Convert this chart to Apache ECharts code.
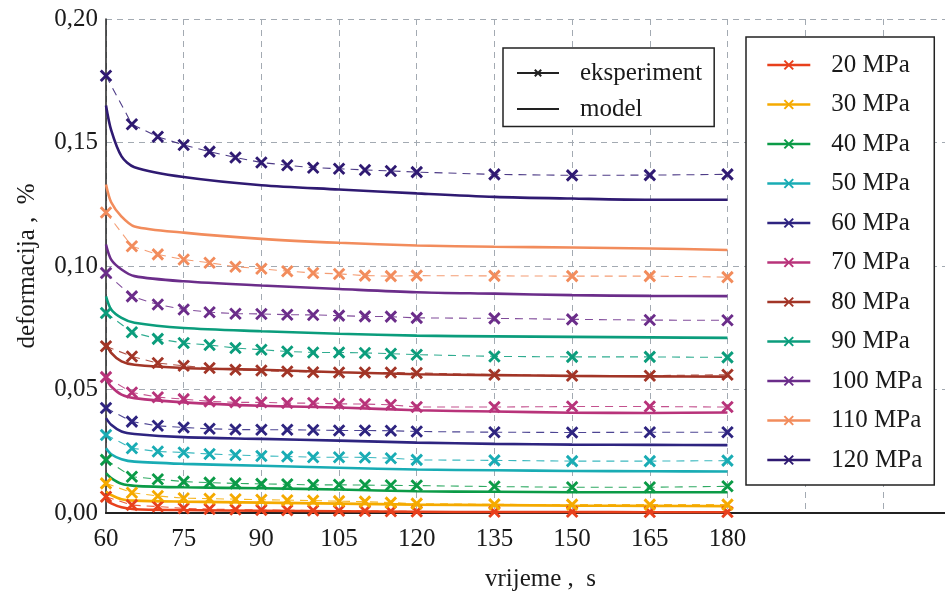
<!DOCTYPE html>
<html><head><meta charset="utf-8">
<script src="https://cdn.jsdelivr.net/npm/echarts@6/dist/echarts.min.js"></script>
<style>html,body{margin:0;padding:0;background:#fff}#c{width:945px;height:597px}</style>
</head><body><div id="c"></div>
<script>
var FONT = 'Liberation Serif';
var expT = [60,65,70,75,80,85,90,95,100,105,110,115,120,135,150,165,180];
var modelT = [60,61,63,65.5,75,90,105,120,135,150,165,180];
var pressures = ['20 MPa','30 MPa','40 MPa','50 MPa','60 MPa','70 MPa','80 MPa','90 MPa','100 MPa','110 MPa','120 MPa'];
var colors = ['#e8401c','#f5aa00','#0b9b47','#19acb4','#2e2480','#b8337a','#a23527','#0b9d7c','#6b2d8a','#f28c5c','#2f1a72'];

var exp20  = [0.0066,0.0032,0.0026,0.0019,0.0016,0.0014,0.0012,0.0011,0.0010,0.0009,0.0008,0.0007,0.0006,0.0005,0.0005,0.0004,0.0004];
var exp30  = [0.0120,0.0082,0.0069,0.0060,0.0058,0.0056,0.0054,0.0052,0.0050,0.0048,0.0046,0.0042,0.0038,0.0035,0.0034,0.0034,0.0034];
var exp40  = [0.0215,0.0147,0.0137,0.0127,0.0123,0.0120,0.0118,0.0116,0.0114,0.0114,0.0113,0.0112,0.0111,0.0107,0.0104,0.0104,0.0108];
var exp50  = [0.0316,0.0262,0.0249,0.0245,0.0239,0.0235,0.0231,0.0229,0.0226,0.0226,0.0225,0.0222,0.0215,0.0213,0.0210,0.0210,0.0212];
var exp60  = [0.0425,0.0370,0.0353,0.0346,0.0341,0.0338,0.0337,0.0337,0.0336,0.0334,0.0334,0.0333,0.0330,0.0327,0.0326,0.0327,0.0327];
var exp70  = [0.0550,0.0488,0.0469,0.0461,0.0452,0.0448,0.0448,0.0445,0.0445,0.0442,0.0441,0.0438,0.0429,0.0429,0.0431,0.0431,0.0429];
var exp80  = [0.0675,0.0634,0.0607,0.0596,0.0587,0.0580,0.0577,0.0573,0.0570,0.0569,0.0569,0.0569,0.0567,0.0560,0.0556,0.0556,0.0560];
var exp90  = [0.0810,0.0732,0.0705,0.0688,0.0680,0.0668,0.0661,0.0654,0.0650,0.0650,0.0648,0.0645,0.0641,0.0634,0.0632,0.0632,0.0630];
var exp100 = [0.0972,0.0877,0.0844,0.0824,0.0813,0.0807,0.0806,0.0803,0.0802,0.0799,0.0796,0.0795,0.0790,0.0788,0.0784,0.0781,0.0780];
var exp110 = [0.1217,0.1080,0.1047,0.1026,0.1013,0.0997,0.0989,0.0979,0.0972,0.0968,0.0961,0.0959,0.0961,0.0960,0.0959,0.0959,0.0955];
var exp120 = [0.1770,0.1574,0.1523,0.1490,0.1463,0.1439,0.1419,0.1408,0.1398,0.1394,0.1389,0.1385,0.1380,0.1371,0.1367,0.1368,0.1371];

var mod20  = [0.0053,0.0039,0.0023,0.0015,0.0012,0.0009,0.0007,0.0005,0.0004,0.0004,0.0003,0.0003];
var mod30  = [0.0087,0.0073,0.0056,0.0050,0.0046,0.0042,0.0038,0.0034,0.0032,0.0030,0.0029,0.0028];
var mod40  = [0.0161,0.0141,0.0118,0.0110,0.0104,0.0100,0.0095,0.0088,0.0086,0.0084,0.0084,0.0084];
var mod50  = [0.0262,0.0238,0.0218,0.0208,0.0199,0.0191,0.0183,0.0176,0.0173,0.0170,0.0169,0.0168];
var mod60  = [0.0384,0.0357,0.0330,0.0320,0.0307,0.0300,0.0293,0.0285,0.0280,0.0277,0.0276,0.0275];
var mod70  = [0.0542,0.0512,0.0479,0.0465,0.0448,0.0434,0.0427,0.0416,0.0411,0.0406,0.0405,0.0407];
var mod80  = [0.0688,0.0648,0.0614,0.0600,0.0587,0.0580,0.0570,0.0562,0.0558,0.0555,0.0553,0.0552];
var mod90  = [0.0877,0.0824,0.0790,0.0770,0.0749,0.0736,0.0726,0.0718,0.0715,0.0713,0.0711,0.0709];
var mod100 = [0.1087,0.1026,0.0986,0.0959,0.0938,0.0921,0.0907,0.0894,0.0888,0.0882,0.0879,0.0878];
var mod110 = [0.1330,0.1258,0.1200,0.1160,0.1135,0.1110,0.1094,0.1083,0.1078,0.1075,0.1071,0.1065];
var mod120 = [0.1650,0.1550,0.1444,0.1400,0.1360,0.1327,0.1310,0.1294,0.1280,0.1273,0.1268,0.1268];

var expAll = [exp20,exp30,exp40,exp50,exp60,exp70,exp80,exp90,exp100,exp110,exp120];
var modAll = [mod20,mod30,mod40,mod50,mod60,mod70,mod80,mod90,mod100,mod110,mod120];

var XSYM = 'path://M0,0L10,10M10,0L0,10';
function pairs(t, v){ return t.map(function(x,i){ return [x, v[i]]; }); }

var series = [];
for (var i = 0; i < pressures.length; i++) {
  series.push({
    name: pressures[i], type: 'line', xAxisIndex: 0, yAxisIndex: 0,
    data: pairs(expT, expAll[i]),
    symbol: XSYM, symbolSize: 10.5, showSymbol: true,
    lineStyle: {color: colors[i], width: 1.1, type: [8,6], opacity: 0.85},
    itemStyle: {color: colors[i], borderColor: colors[i], borderWidth: 2.9},
    z: 3, animation: false
  });
  series.push({
    name: pressures[i] + ' model', type: 'line', xAxisIndex: 0, yAxisIndex: 0,
    data: pairs(modelT, modAll[i]),
    symbol: 'none', smooth: 0.3,
    lineStyle: {color: colors[i], width: 2.6},
    itemStyle: {color: colors[i]},
    z: 2, animation: false
  });
}
series.push({name: 'eksperiment', type: 'line', data: [], symbol: XSYM,
  lineStyle: {color: '#222', width: 1.2}, itemStyle: {color: '#222', borderColor: '#222', borderWidth: 1.3}});
series.push({name: 'model', type: 'line', data: [], symbol: 'circle',
  lineStyle: {color: '#222', width: 1.5}, itemStyle: {color: '#222', opacity: 0}});

var gridLine = {show: true, lineStyle: {color: '#a3aab2', width: 1, type: [6,5]}};
var txt = {fontFamily: FONT, fontSize: 25, color: '#1a1a1a'};

var option = {
  animation: false,
  backgroundColor: '#fff',
  grid: {left: 106, right: 0, top: 19, bottom: 84, containLabel: false},
  xAxis: [{
    type: 'value', min: 60, max: 222, interval: 15,
    axisLine: {show: true, onZero: false, lineStyle: {color: '#222', width: 2}},
    axisTick: {show: false},
    splitLine: gridLine,
    axisLabel: Object.assign({margin: 14, formatter: function(v){ return v <= 180 ? String(v) : ''; }, showMaxLabel: false}, txt),
    name: 'vrijeme ,  s', nameLocation: 'middle', nameGap: 54,
    nameTextStyle: Object.assign({padding: [0,0,0,30]}, txt)
  },{
    type: 'value', min: 60, max: 222, position: 'top',
    axisLine: {show: true, lineStyle: {color: '#222', width: 1.5}},
    axisTick: {show: false}, axisLabel: {show: false}, splitLine: {show: false}
  }],
  yAxis: {
    type: 'value', min: 0, max: 0.2, interval: 0.05,
    axisLine: {show: true, onZero: false, lineStyle: {color: '#222', width: 1.5}},
    axisTick: {show: false},
    splitLine: gridLine,
    axisLabel: Object.assign({margin: 8, formatter: function(v){ return v.toFixed(2).replace('.', ','); }}, txt),
    name: 'deformacija ,  %', nameLocation: 'middle', nameGap: 66, nameRotate: 90,
    nameTextStyle: txt
  },
  legend: [{
    data: pressures, orient: 'vertical', left: 746, top: 37,
    itemWidth: 43, itemHeight: 11, itemGap: 14.5,
    padding: [15.5, 12, 12.5, 20],
    backgroundColor: '#fff', borderColor: '#222', borderWidth: 1.5,
    lineStyle: {type: 'solid', width: 2.6, opacity: 1},
    textStyle: Object.assign({padding: [0,0,0,16]}, txt),
    selectedMode: false
  },{
    data: ['eksperiment', 'model'], orient: 'vertical', left: 503, top: 48,
    itemWidth: 42, itemHeight: 8, itemGap: 11,
    padding: [12.5, 12, 5, 13],
    backgroundColor: '#fff', borderColor: '#222', borderWidth: 1.5,
    lineStyle: {type: 'solid', opacity: 1},
    textStyle: Object.assign({padding: [0,0,0,16]}, txt),
    selectedMode: false
  }],
  series: series
};
var chart = echarts.init(document.getElementById('c'), null, {renderer: 'canvas'});
chart.setOption(option);
</script></body></html>
